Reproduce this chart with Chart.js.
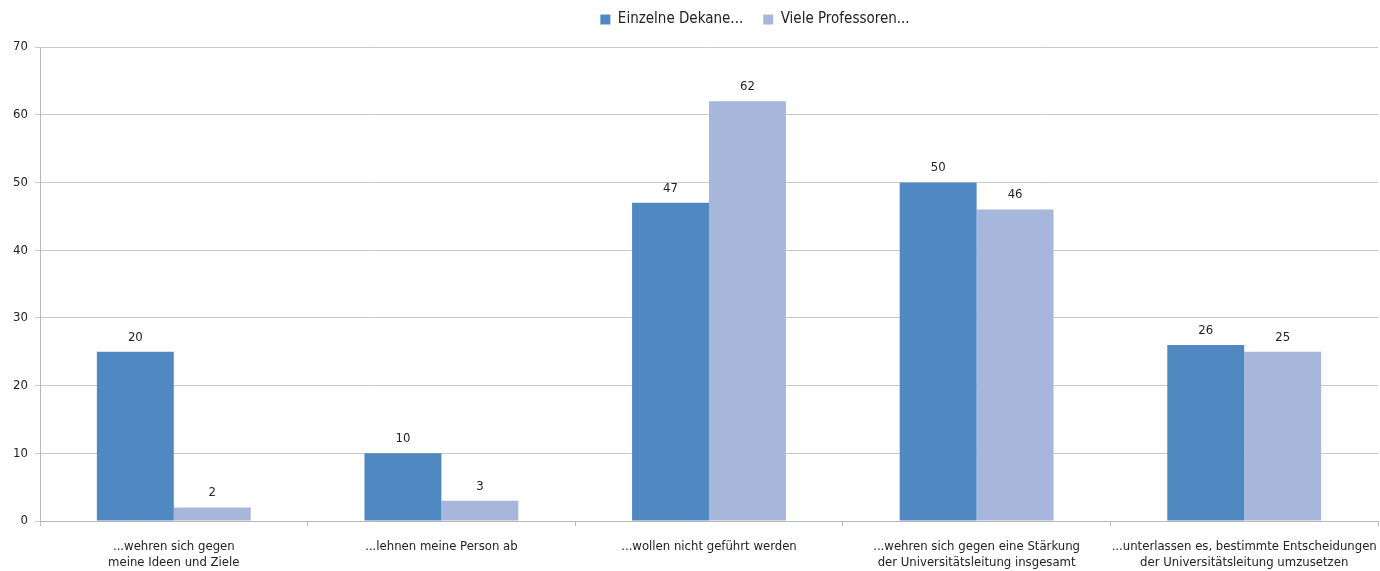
<!DOCTYPE html>
<html lang="de">
<head>
  <meta charset="UTF-8" />
  <title>Widerstand gegen die Universitätsleitung</title>
  <script src="https://cdn.jsdelivr.net/npm/chart.js"></script>
  <style>
    html, body { margin: 0; padding: 0; background: #fff; }
    #wrap { width: 1380px; height: 571px; }
  </style>
</head>
<body>
  <div id="wrap"><canvas id="chart"></canvas></div>

  <script>
    const categories = [
      ['...wehren sich gegen', 'meine Ideen und Ziele'],
      '...lehnen meine Person ab',
      '...wollen nicht geführt werden',
      ['...wehren sich gegen eine Stärkung', 'der Universitätsleitung insgesamt'],
      ['...unterlassen es, bestimmte Entscheidungen', 'der Universitätsleitung umzusetzen']
    ];
    const seriesNames = ['Einzelne Dekane...', 'Viele Professoren...'];
    // Balkenhöhen wie im Bild
    const dekaneValues = [25, 10, 47, 50, 26];
    const professorenValues = [2, 3, 62, 46, 25];
    // Beschriftungen über den Balken (erste weicht im Original ab)
    const dekaneLabels = ['20', '10', '47', '50', '26'];
    const professorenLabels = ['2', '3', '62', '46', '25'];
    const yTicks = [0, 10, 20, 30, 40, 50, 60, 70];

    const FONT = '"Liberation Sans Narrow", "DejaVu Sans Condensed", "Roboto", sans-serif';
    Chart.defaults.font.family = FONT;
    Chart.defaults.color = '#222';

    // einfache Wertbeschriftung ohne Plugin-Bibliothek
    const barLabels = {
      id: 'barLabels',
      afterDatasetsDraw(chart) {
        const ctx = chart.ctx;
        ctx.save();
        ctx.font = '13px ' + FONT;
        ctx.fillStyle = '#222';
        ctx.textAlign = 'center';
        ctx.textBaseline = 'bottom';
        chart.data.datasets.forEach((ds, i) => {
          chart.getDatasetMeta(i).data.forEach((bar, j) => {
            ctx.fillText(ds.labels[j], bar.x, bar.y - 8);
          });
        });
        ctx.restore();
      }
    };

    // Legende: Höhe anpassen und etwas nach rechts/oben schieben wie im Original
    const legendShift = {
      id: 'legendShift',
      beforeInit(chart) {
        const legend = chart.legend;
        const fit = legend.fit;
        legend.fit = function () {
          fit.call(this);
          this.height += 2;
        };
        const draw = legend.draw;
        legend.draw = function () {
          chart.ctx.save();
          chart.ctx.translate(66, -8);
          draw.call(this);
          chart.ctx.restore();
        };
      }
    };

    new Chart(document.getElementById('chart'), {
      type: 'bar',
      data: {
        labels: categories,
        datasets: [
          {
            label: seriesNames[0],
            data: dekaneValues,
            labels: dekaneLabels,
            backgroundColor: '#5088C2',
            borderWidth: 0,
            barPercentage: 1,
            categoryPercentage: 0.575
          },
          {
            label: seriesNames[1],
            data: professorenValues,
            labels: professorenLabels,
            backgroundColor: '#A7B7DB',
            borderWidth: 0,
            barPercentage: 1,
            categoryPercentage: 0.575
          }
        ]
      },
      options: {
        responsive: true,
        maintainAspectRatio: false,
        animation: false,
        layout: { padding: { left: 0, right: 2, top: 0, bottom: 0 } },
        plugins: {
          tooltip: { enabled: false },
          legend: {
            position: 'top',
            align: 'center',
            labels: {
              boxWidth: 10,
              boxHeight: 10,
              padding: 20,
              font: { size: 15 },
              color: '#222'
            },
            onClick: null
          }
        },
        scales: {
          x: {
            grid: {
              offset: true,
              drawOnChartArea: false,
              drawTicks: true,
              tickLength: 5,
              color: '#b8b8b8'
            },
            border: { color: '#b8b8b8' },
            ticks: {
              maxRotation: 0,
              autoSkip: false,
              font: { size: 13 },
              color: '#222',
              padding: 13
            },
            afterFit(scale) {
              scale.height = 50;
              scale.paddingLeft = 0;
              scale.paddingRight = 0;
            }
          },
          y: {
            min: 0,
            max: 70,
            afterBuildTicks(scale) { scale.ticks = yTicks.map(v => ({ value: v })); },
            grid: {
              color: '#c8c8c8',
              tickLength: 5,
              drawTicks: true
            },
            border: { color: '#b8b8b8' },
            ticks: {
              font: { size: 13 },
              color: '#222',
              padding: 7
            },
            afterFit(scale) { scale.width = 40; }
          }
        }
      },
      plugins: [barLabels, legendShift]
    });
  </script>
</body>
</html>
